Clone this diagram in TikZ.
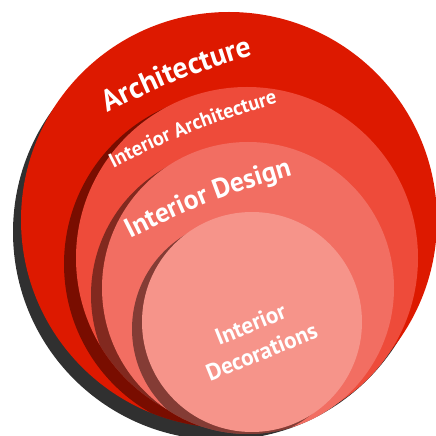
\documentclass[tikz,border=0pt]{standalone}
\usepackage{fontspec}
\setmainfont{PT Sans}
\usepackage{tikz}
\usetikzlibrary{decorations.text}

\begin{document}
\begin{tikzpicture}[x=0.02cm,y=0.02cm]

  \definecolor{archc}{HTML}{DD1900}    % deep red
  \definecolor{iarchc}{HTML}{EE4B3A}   % red
  \definecolor{idesc}{HTML}{F26E62}    % salmon
  \definecolor{idecc}{HTML}{F6948A}    % light salmon
  \definecolor{dropgrey}{HTML}{303030} % dark grey

\tikzstyle{ringtext}=[decorate,
	decoration={text along path,text align=center,text color=white}]

\tikzstyle{castshadow}=[fill=black,opacity=0.45]

  \useasboundingbox (0,0) rectangle (436,436);

  \coordinate (arch)  at (229,216);
  \coordinate (iarch) at (247,178);
  \coordinate (ides)  at (248,148);
  \coordinate (idec)  at (252,114);

  %% outer ring and its drop shadow
  \fill[dropgrey] ([shift={(-8,-12)}]arch) circle (208);
  \fill[archc] (arch) circle (208);

  %% each inner disc casts a dark band on the one below
  \begin{scope}
    \clip (arch) circle (208);
    \fill[castshadow] ([shift={(-12,-6)}]iarch) circle (171);
  \end{scope}
  \fill[iarchc] (iarch) circle (171);

  \begin{scope}
    \clip (iarch) circle (171);
    \fill[castshadow] ([shift={(-11,-7)}]ides) circle (146);
  \end{scope}
  \fill[idesc] (ides) circle (146);

  \begin{scope}
    \clip (ides) circle (146);
    \fill[castshadow] ([shift={(-10,-7)}]idec) circle (110);
  \end{scope}
  \fill[idecc] (idec) circle (110);

  %% labels
  \path[ringtext,decoration={text={|\fontsize{17}{20}\selectfont\bfseries|Architecture}}]
        (94,316) to[bend left=6] (268,385);

  \path[ringtext,decoration={text={|\fontsize{11.6}{14}\selectfont\bfseries|Interior Architecture}}]
        (100,261) to[bend left=6] (292,337);

  \path[ringtext,decoration={text={|\fontsize{15.6}{18}\selectfont\bfseries|Interior Design}}]
        (114,189) to[bend left=6] (310,266);

  \node (idectxt) at (256,98) [rotate=22,align=center,text=white,
        font=\fontsize{13.2}{17}\selectfont\bfseries] {Interior\\Decorations};

\end{tikzpicture}
\end{document}
